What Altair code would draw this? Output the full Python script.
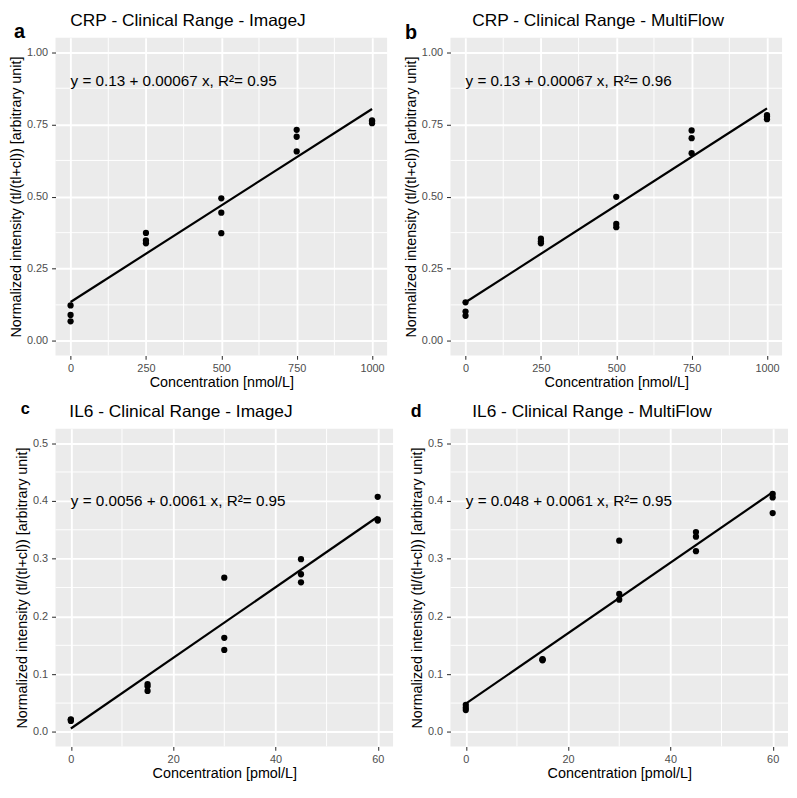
import altair as alt
import pandas as pd

FONT = "Liberation Sans"
YTITLE = "Normalized intensity (tl/(tl+cl)) [arbitrary unit]"

# ---- data ----
crp_conc = [0, 0, 0, 250, 250, 250, 500, 500, 500, 750, 750, 750, 1000, 1000, 1000]
crp_imagej = [0.123, 0.090, 0.068, 0.374, 0.348, 0.338, 0.494, 0.444, 0.373,
              0.731, 0.707, 0.656, 0.764, 0.760, 0.754]
crp_multiflow = [0.134, 0.102, 0.087, 0.354, 0.345, 0.338, 0.499, 0.405, 0.394,
                 0.729, 0.702, 0.650, 0.782, 0.777, 0.768]
il6_conc = [0, 0, 0, 15, 15, 15, 30, 30, 30, 45, 45, 45, 60, 60, 60]
il6_imagej = [0.022, 0.021, 0.019, 0.083, 0.079, 0.071, 0.267, 0.163, 0.142,
              0.299, 0.273, 0.259, 0.407, 0.368, 0.366]
il6_multiflow = [0.047, 0.042, 0.038, 0.126, 0.124, 0.125, 0.331, 0.239, 0.229,
                 0.346, 0.338, 0.313, 0.412, 0.406, 0.379]

# fitted regression line end points
crp_fit_x = [0, 1000]
crp_imagej_fit = [0.135, 0.803]
crp_multiflow_fit = [0.134, 0.805]
il6_fit_x = [0, 60]
il6_imagej_fit = [0.006, 0.3725]
il6_multiflow_fit = [0.049, 0.415]

eq_a = "y = 0.13 + 0.00067 x, R\u00b2= 0.95"
eq_b = "y = 0.13 + 0.00067 x, R\u00b2= 0.96"
eq_c = "y = 0.0056 + 0.0061 x, R\u00b2= 0.95"
eq_d = "y = 0.048 + 0.0061 x, R\u00b2= 0.95"
crp_eq_pos = [0, 0.9]
il6_eq_pos = [0, 0.4]

crp_xdom = [-50, 1050]
crp_ydom = [-0.05, 1.05]
crp_xticks = [0, 250, 500, 750, 1000]
crp_yticks = [0.0, 0.25, 0.5, 0.75, 1.0]
crp_xminor = [125, 375, 625, 875]
crp_yminor = [0.125, 0.375, 0.625, 0.875]

il6_xdom = [-3, 63]
il6_ydom = [-0.025, 0.525]
il6_xticks = [0, 20, 40, 60]
il6_yticks = [0.0, 0.1, 0.2, 0.3, 0.4, 0.5]
il6_xminor = [10, 30, 50]
il6_yminor = [0.05, 0.15, 0.25, 0.35, 0.45]


def make_panel(conc, vals, fit_x, fit_y, eq_text, eq_pos, xdom, ydom, xticks, yticks,
               xminor, yminor, yfmt, xtitle, title, title_x, label, label_x, label_y,
               label_size, w, h):
    xs = alt.Scale(domain=xdom, nice=False, zero=False)
    ys = alt.Scale(domain=ydom, nice=False, zero=False)
    xaxis = alt.Axis(values=xticks, format="d", title=xtitle)
    yaxis = alt.Axis(values=yticks, format=yfmt, title=YTITLE)

    def X(f):
        return alt.X(f, scale=xs, axis=xaxis)

    def Y(f):
        return alt.Y(f, scale=ys, axis=yaxis)

    minx = alt.Chart(pd.DataFrame({"m": xminor})).mark_rule(
        color="white", strokeWidth=0.95).encode(x=X("m:Q"))
    miny = alt.Chart(pd.DataFrame({"m": yminor})).mark_rule(
        color="white", strokeWidth=0.95).encode(y=Y("m:Q"))
    pts = alt.Chart(pd.DataFrame({"conc": conc, "val": vals})).mark_circle(
        size=40, color="black", opacity=1).encode(x=X("conc:Q"), y=Y("val:Q"))
    line = alt.Chart(pd.DataFrame({"x": fit_x, "y": fit_y})).mark_line(
        color="black", strokeWidth=2.2).encode(x=X("x:Q"), y=Y("y:Q"))
    eq = alt.Chart(pd.DataFrame({"x": [eq_pos[0]], "y": [eq_pos[1]], "t": [eq_text]})).mark_text(
        align="left", baseline="middle", font=FONT, fontSize=15.4, color="black").encode(
        x=X("x:Q"), y=Y("y:Q"), text="t:N")
    ttl = alt.Chart(pd.DataFrame({"t": [title]})).mark_text(
        align="left", baseline="alphabetic", font=FONT, fontSize=17.5, color="black").encode(
        x=alt.value(title_x), y=alt.value(-11.6), text="t:N")
    lab = alt.Chart(pd.DataFrame({"t": [label]})).mark_text(
        align="left", baseline="alphabetic", font=FONT, fontSize=label_size,
        fontWeight="bold", color="black").encode(
        x=alt.value(label_x), y=alt.value(label_y), text="t:N")
    return alt.layer(minx, miny, pts, line, eq, ttl, lab).properties(width=w, height=h)


H = 321
a = make_panel(crp_conc, crp_imagej, crp_fit_x, crp_imagej_fit, eq_a, crp_eq_pos,
               crp_xdom, crp_ydom, crp_xticks, crp_yticks, crp_xminor, crp_yminor, ".2f",
               "Concentration [nmol/L]", "CRP - Clinical Range - ImageJ", 15,
               "a", -42, 0, 20, 335, H)
b = make_panel(crp_conc, crp_multiflow, crp_fit_x, crp_multiflow_fit, eq_b, crp_eq_pos,
               crp_xdom, crp_ydom, crp_xticks, crp_yticks, crp_xminor, crp_yminor, ".2f",
               "Concentration [nmol/L]", "CRP - Clinical Range - MultiFlow", 22,
               "b", -46, 1.5, 20, 335, H)
c = make_panel(il6_conc, il6_imagej, il6_fit_x, il6_imagej_fit, eq_c, il6_eq_pos,
               il6_xdom, il6_ydom, il6_xticks, il6_yticks, il6_xminor, il6_yminor, ".1f",
               "Concentration [pmol/L]", "IL6 - Clinical Range - ImageJ", 14,
               "c", -35, -14.6, 16.5, 341, H)
d = make_panel(il6_conc, il6_multiflow, il6_fit_x, il6_multiflow_fit, eq_d, il6_eq_pos,
               il6_xdom, il6_ydom, il6_xticks, il6_yticks, il6_xminor, il6_yminor, ".1f",
               "Concentration [pmol/L]", "IL6 - Clinical Range - MultiFlow", 22,
               "d", -40, -11.6, 18, 341, H)

top = alt.hconcat(a, b, spacing=15)
bottom = alt.hconcat(c, d, spacing=15)
chart = alt.vconcat(top, bottom, spacing=12).properties(
    padding={"left": 0, "top": 0, "right": 0, "bottom": 0}
).configure_view(fill="#EBEBEB", strokeWidth=0).configure_axis(
    domain=False, tickColor="#333333", tickSize=4, tickWidth=1.07,
    labelColor="#4D4D4D", labelFont=FONT, labelFontSize=11,
    titleFont=FONT, titleFontSize=14.5, titleFontWeight="normal", titleColor="black",
    grid=True, gridColor="white", gridWidth=1.9, gridOpacity=1
).configure_axisX(labelPadding=3, titlePadding=2).configure_axisY(labelPadding=4, titlePadding=3)

chart.save("out.html", embed_options={"renderer": "svg", "actions": False})
